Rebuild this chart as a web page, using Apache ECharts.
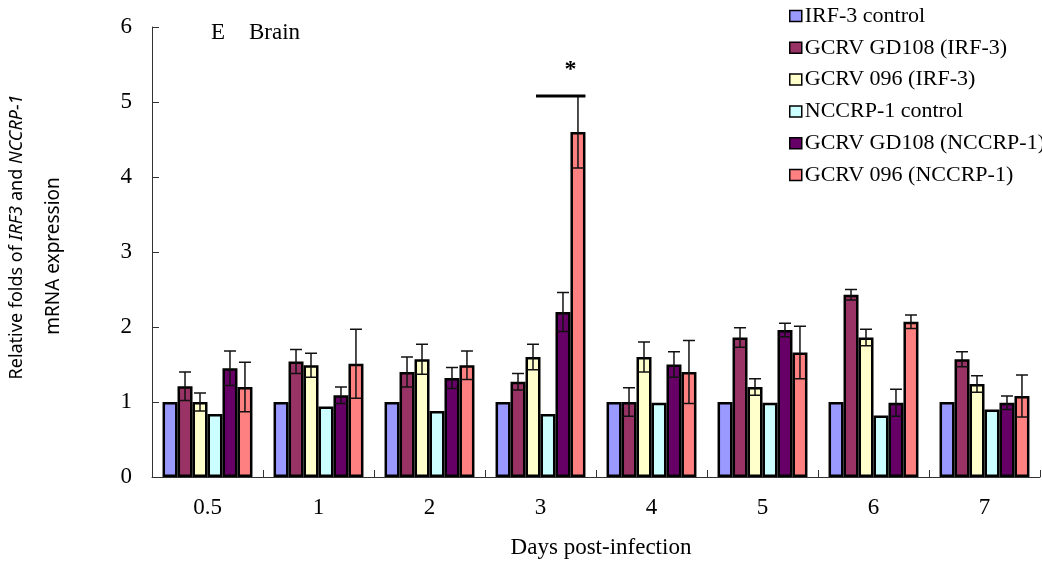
<!DOCTYPE html>
<html>
<head>
<meta charset="utf-8">
<script src="https://cdn.jsdelivr.net/npm/echarts@6/dist/echarts.min.js"></script>
<style>html,body{margin:0;padding:0;background:#fff}#c{width:1042px;height:564px}</style>
</head>
<body>
<div id="c"></div>
<script>
// ---- data ----
const categories = ['0.5', '1', '2', '3', '4', '5', '6', '7'];
const seriesNames = ['IRF-3 control', 'GCRV GD108 (IRF-3)', 'GCRV 096 (IRF-3)', 'NCCRP-1 control', 'GCRV GD108 (NCCRP-1)', 'GCRV 096 (NCCRP-1)'];
const irf3Control    = [1.00, 1.00, 1.00, 1.00, 1.00, 1.00, 1.00, 1.00];
const gd108Irf3      = [1.21, 1.54, 1.40, 1.27, 1.00, 1.86, 2.43, 1.57];
const gd108Irf3Err   = [0.19, 0.16, 0.20, 0.11, 0.19, 0.13, 0.07, 0.10];
const v096Irf3       = [1.00, 1.49, 1.57, 1.60, 1.60, 1.20, 1.86, 1.24];
const v096Irf3Err    = [0.12, 0.16, 0.20, 0.17, 0.20, 0.11, 0.11, 0.11];
const nccrpControl   = [0.84, 0.94, 0.88, 0.84, 0.99, 0.99, 0.82, 0.90];
const gd108Nccrp     = [1.45, 1.09, 1.32, 2.20, 1.50, 1.96, 0.99, 0.99];
const gd108NccrpErr  = [0.23, 0.11, 0.14, 0.26, 0.17, 0.09, 0.18, 0.09];
const v096Nccrp      = [1.20, 1.51, 1.49, 4.60, 1.40, 1.66, 2.07, 1.08];
const v096NccrpErr   = [0.33, 0.46, 0.19, 0.48, 0.42, 0.35, 0.09, 0.28];
const yTicks = [0, 1, 2, 3, 4, 5, 6];
const sigCategory = 3;      // day 3
const sigStar = '*';

const colors = ['#9999FF', '#993366', '#FFFFCC', '#CCFFFF', '#660066', '#FF8080'];
const values = [irf3Control, gd108Irf3, v096Irf3, nccrpControl, gd108Nccrp, v096Nccrp];
const errors = [null, gd108Irf3Err, v096Irf3Err, null, gd108NccrpErr, v096NccrpErr];

const BAR_CAT_GAP = 0.19;
const NS = values.length;

const errData = [];
errors.forEach((errs, si) => {
  if (!errs) return;
  errs.forEach((e, ci) => errData.push([ci, si, values[si][ci], e]));
});
const sigLevel = v096Nccrp[sigCategory] + v096NccrpErr[sigCategory];

const serif = '"Liberation Serif", "Times New Roman", serif';

function barGeom(api, cat) {
  const bandW = api.size([1, 0])[0];
  const barW = bandW * (1 - BAR_CAT_GAP) / NS;
  const cx = api.coord([cat, 0])[0];
  return { barW, cx };
}

const chart = echarts.init(document.getElementById('c'), null, { renderer: 'canvas' });

const series = values.map((vals, i) => ({
  name: seriesNames[i],
  type: 'bar',
  data: vals,
  barGap: '0%',
  barCategoryGap: (BAR_CAT_GAP * 100) + '%',
  itemStyle: { color: colors[i], borderColor: '#000', borderWidth: 2.5 },
  z: 2
}));

series.push({
  type: 'custom',
  name: 'err',
  data: errData,
  z: 5,
  renderItem: function (params, api) {
    const cat = api.value(0), si = api.value(1), v = api.value(2), e = api.value(3);
    const g = barGeom(api, cat);
    const x = g.cx + (si - (NS - 1) / 2) * g.barW;
    const yTop = api.coord([cat, v + e])[1];
    const yBot = api.coord([cat, v - e])[1];
    const cap = 6;
    const st = { stroke: '#111', lineWidth: 1.5 };
    return {
      type: 'group',
      children: [
        { type: 'line', shape: { x1: x, y1: yTop, x2: x, y2: yBot }, style: st },
        { type: 'line', shape: { x1: x - cap, y1: yTop, x2: x + cap, y2: yTop }, style: st },
        { type: 'line', shape: { x1: x - cap, y1: yBot, x2: x + cap, y2: yBot }, style: st }
      ]
    };
  }
});

series.push({
  type: 'custom',
  name: 'sig',
  data: [[sigCategory, sigLevel]],
  z: 6,
  renderItem: function (params, api) {
    const cat = api.value(0), lvl = api.value(1);
    const g = barGeom(api, cat);
    const x1 = g.cx + (2.2 - (NS - 1) / 2) * g.barW;
    const x2 = g.cx + (NS - 0.5 - (NS - 1) / 2) * g.barW;
    const y = api.coord([cat, lvl])[1];
    const xs = g.cx + (4.5 - (NS - 1) / 2) * g.barW;
    return {
      type: 'group',
      children: [
        { type: 'line', shape: { x1: x1, y1: y, x2: x2, y2: y }, style: { stroke: '#000', lineWidth: 3 } },
        { type: 'text', x: xs, y: y - 26, style: { text: sigStar, fill: '#000', font: 'bold 24px ' + serif, textAlign: 'center', textVerticalAlign: 'middle' } }
      ]
    };
  }
});

const option = {
  animation: false,
  backgroundColor: '#fff',
  grid: { left: 152, right: 2, top: 27, bottom: 87, containLabel: false },
  legend: {
    data: seriesNames,
    orient: 'vertical',
    left: 789,
    top: 5,
    padding: 0,
    itemWidth: 12,
    itemHeight: 11,
    itemGap: 9.8,
    icon: 'rect',
    textStyle: { fontFamily: serif, fontSize: 22, color: '#000', lineHeight: 22, padding: [0, 0, 0, -2] },
    itemStyle: { borderColor: '#000', borderWidth: 1.5 }
  },
  xAxis: {
    type: 'category',
    data: categories,
    name: 'Days post-infection',
    nameLocation: 'middle',
    nameGap: 59,
    nameTextStyle: { fontFamily: serif, fontSize: 23, color: '#000', padding: [0, 0, 0, 10] },
    axisLine: { lineStyle: { color: '#333', width: 1 } },
    axisTick: { show: true, inside: true, length: 7, lineStyle: { color: '#333' } },
    axisLabel: { fontFamily: serif, fontSize: 23, color: '#000', margin: 19 }
  },
  yAxis: {
    type: 'value',
    min: yTicks[0],
    max: yTicks[yTicks.length - 1],
    interval: 1,
    axisLine: { show: true, lineStyle: { color: '#333', width: 1 } },
    axisTick: { show: true, inside: true, length: 7, lineStyle: { color: '#333' } },
    splitLine: { show: false },
    axisLabel: { fontFamily: serif, fontSize: 23, color: '#000', margin: 20 }
  },
  graphic: [
    { type: 'text', left: 211, top: 21, style: { text: 'E', font: '23px ' + serif, fill: '#000' } },
    { type: 'text', left: 249, top: 21, style: { text: 'Brain', font: '23px ' + serif, fill: '#000' } },
    {
      type: 'text', x: 17, y: 237, rotation: Math.PI / 2,
      style: {
        text: '{n|Relative folds of }{i|IRF3}{n| and }{i|NCCRP-1}',
        textAlign: 'center', textVerticalAlign: 'middle',
        rich: {
          n: { fontFamily: '"Noto Sans", sans-serif', fontSize: 18, fill: '#000', color: '#000' },
          i: { fontFamily: '"Noto Sans", sans-serif', fontSize: 18, fontStyle: 'italic', fill: '#000', color: '#000' }
        }
      }
    },
    {
      type: 'text', x: 54, y: 256, rotation: Math.PI / 2,
      style: { text: 'mRNA expression', font: '19px "Noto Sans", sans-serif', fill: '#000', textAlign: 'center', textVerticalAlign: 'middle' }
    }
  ],
  series: series
};

chart.setOption(option);
</script>
</body>
</html>
